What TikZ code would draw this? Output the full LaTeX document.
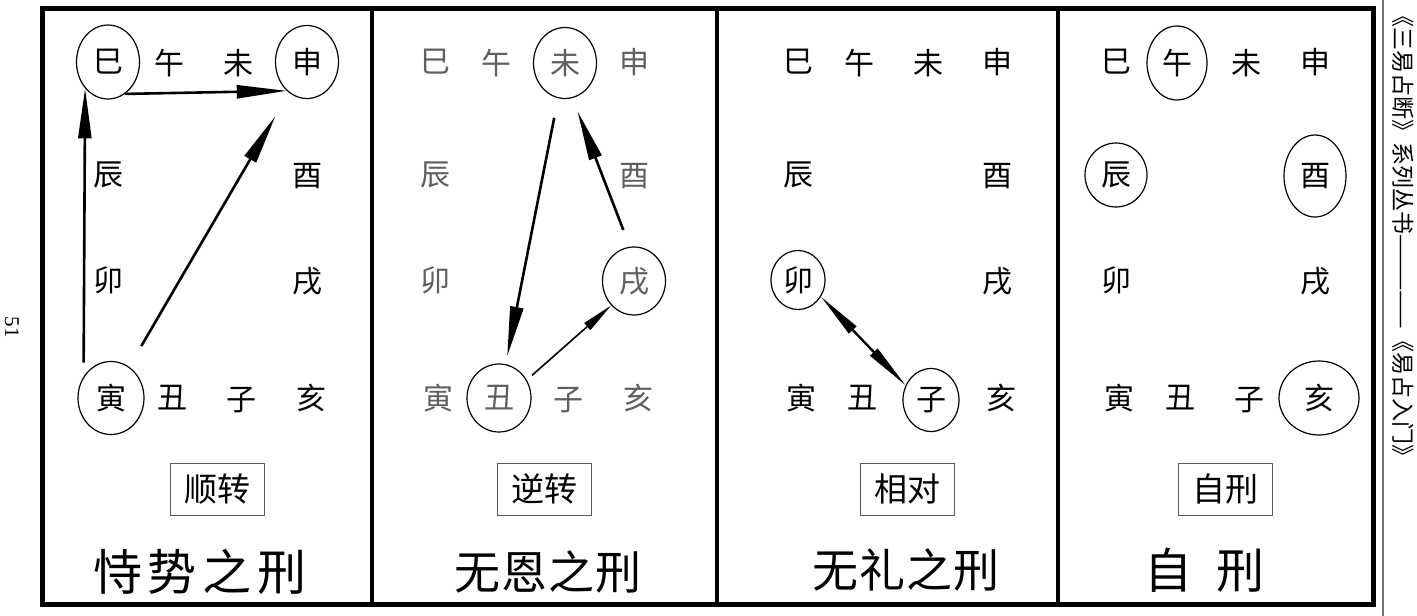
\documentclass[tikz,border=0pt]{standalone}
\usepackage{fontspec}
\usepackage{tikz}
\usetikzlibrary{arrows.meta,calc,positioning,shapes.geometric}
\newfontfamily\cjk{Noto Sans CJK SC}
\newfontfamily\folionum{Liberation Serif}
\definecolor{inkgray}{RGB}{95,95,95}
\definecolor{boxgray}{RGB}{90,90,90}
\newcommand{\cjksize}[1]{\cjk\fontsize{#1}{#1}\selectfont}

\begin{document}
\begin{tikzpicture}[x=1pt, y=-1pt,
  branch/.style={font=\cjksize{30}, inner sep=0pt},
  ring/.style 2 args={draw, ellipse, line width=1.2pt, inner sep=0pt, minimum width=#1, minimum height=#2},
  namebox/.style={draw=boxgray, line width=0.9pt, font=\cjksize{33}, minimum width=94pt, minimum height=52pt, inner sep=0pt},
  heading/.style={inner sep=0pt},
  arr/.style={line width=2.6pt, -{Triangle[length=50pt,width=13pt]}},
  thinarr/.style={line width=1.6pt, -{Triangle[length=32pt,width=9pt]}},
  dblarr/.style={line width=2.4pt, {Triangle[length=46pt,width=10pt]}-{Triangle[length=46pt,width=10pt]}}]
  \useasboundingbox (0,0) rectangle (1417,616);
  % page frame, the four panels and the running head
  \draw[line width=5pt] (42,8) rectangle (1373,604);
  \foreach \sx in {372,717,1058}
    \draw[line width=4pt] (\sx,8) -- (\sx,604);
  \draw[line width=1.2pt, black!55] (1383,0) -- (1383,616);
  \node[rotate=-90, font=\folionum\fontsize{21}{21}\selectfont] (folio) at (12,327) {51};
  \node[rotate=-90, anchor=west, inner sep=0pt, font=\cjksize{23}] (series) at (1403,4)
    {《三易占断》系列丛书—————《易占入门》};
  % the twelve branches round each panel, same layout every time
  \foreach \p/\cx/\ink/\lbl in {p1/108/black/顺转, p2/435/inkgray/逆转, p3/798/black/相对, p4/1116/black/自刑} {
    \begin{scope}[shift={(\cx,0)}]
      \foreach \nm/\ch/\bx/\by in {si/巳/0/62, wu/午/61/63, wei/未/130/63, shen/申/199/62,
                                   chen/辰/0/175, you/酉/199/176, mao/卯/0/280, xu/戌/199/281,
                                   yin/寅/3/398, chou/丑/64/398, zi/子/133/400, hai/亥/203/398}
        \node[branch, text=\ink] (\p-\nm) at (\bx,\by) {\ch};
      \node[namebox] (\p-box) at (109,489) {\lbl};
    \end{scope}
  }
  \node[heading, font=\cjksize{49}] (p1-title) at (200,572) {恃\hspace{6pt}势\hspace{6pt}之\hspace{6pt}刑};
  \node[heading, font=\cjksize{46}] (p2-title) at (548,572) {无\hspace{1pt}恩\hspace{1pt}之\hspace{1pt}刑};
  \node[heading, font=\cjksize{46}] (p3-title) at (906,570) {无\hspace{1pt}礼\hspace{1pt}之\hspace{1pt}刑};
  \node[heading, font=\cjksize{48}] (p4-title) at (1204,570) {自\hspace{24pt}刑};
  % circled branches
  \foreach \nd/\rw/\rh in {p1-si/63/74, p1-shen/63/73, p1-yin/66/73,
                           p2-wei/63/71, p2-xu/63/68, p2-chou/64/68,
                           p3-mao/54/59, p3-zi/56/63,
                           p4-wu/60/74, p4-chen/62/64, p4-you/62/82, p4-hai/80/74}
    \node[ring={\rw pt}{\rh pt}] (\nd-o) at (\nd) {};
  % panel 1: forward turn
  \draw[arr, shorten <=14pt] (p1-yin-o.142) -- (p1-si-o.229);
  \draw[arr] (p1-si-o.298) -- (p1-shen-o.235);
  \draw[arr, shorten <=24pt, shorten >=27pt] (p1-yin-o) -- (p1-shen-o);
  % panel 2: backward turn
  \draw[arr, shorten <=20pt, shorten >=8pt] (p2-wei-o) -- (p2-chou-o);
  \draw[arr, shorten <=18pt, shorten >=14pt] (p2-xu-o.97) -- (p2-wei-o.282);
  \draw[thinarr, shorten <=7pt] (p2-chou-o.33) -- (p2-xu-o.227);
  % panel 3: facing pair
  \draw[dblarr] (p3-mao-o.324) -- (p3-zi-o.150);
\end{tikzpicture}
\end{document}
